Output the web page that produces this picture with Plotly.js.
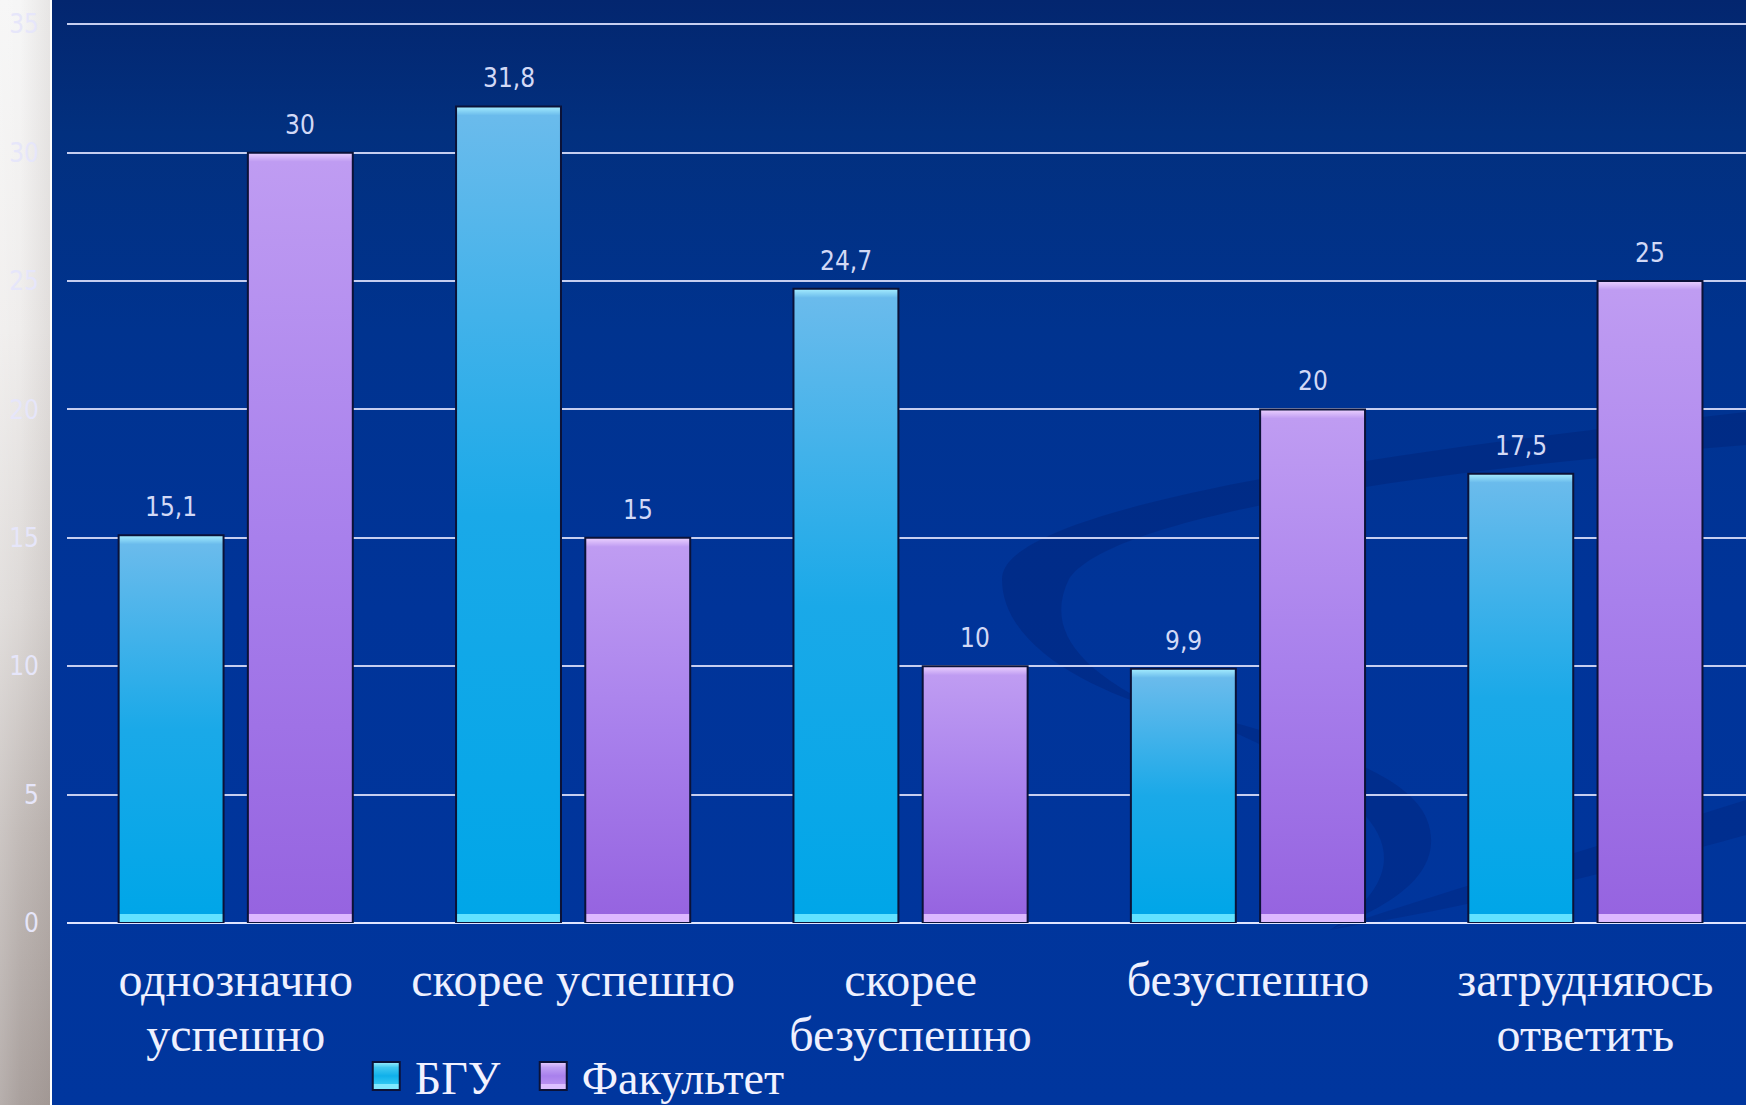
<!DOCTYPE html>
<html>
<head>
<meta charset="utf-8">
<script src="https://cdn.plot.ly/plotly-3.0.1.min.js"></script>
<style>
  html, body { margin: 0; padding: 0; width: 1746px; height: 1105px; overflow: hidden; }
  #bg { position: absolute; left: 0; top: 0; width: 1746px; height: 1105px;
        background: linear-gradient(to bottom, #03266f 0%, #02307f 12%, #00338f 30%, #003499 55%, #00369e 100%); }
  #strip { position: absolute; left: 0; top: 0; width: 50px; height: 1105px;
        background: linear-gradient(to bottom, #f6f6f6 0%, #efedec 30%, #ddd9d7 55%, #c3bcb9 75%, #aaa19e 100%); }
  #stripShade { position: absolute; left: 0; top: 0; width: 50px; height: 1105px;
        background: linear-gradient(to right, rgba(255,255,255,0.15) 0%, rgba(0,0,0,0) 40%, rgba(60,40,30,0.08) 100%); }
  #whiteLine { position: absolute; left: 50px; top: 0; width: 2px; height: 1105px; background: #ffffff; }
  #deco { position: absolute; left: 0; top: 0; }
  #chart { position: absolute; left: 0; top: 0; width: 1746px; height: 1105px; }
</style>
</head>
<body>
<div id="bg"></div>
<svg id="deco" width="1746" height="1105">
  <path d="M1746,412 C1448,445 1002,501 1002,579 C1002,646 1091,690 1169,713 C1069,668 1047,624 1069,579 C1114,512 1448,468 1746,445 Z" fill="rgba(0,25,100,0.28)"/>
  <path d="M1150,700 C1300,740 1420,770 1430,830 C1440,880 1380,910 1330,930 C1390,890 1400,850 1360,810 C1320,770 1240,730 1150,700 Z" fill="rgba(0,25,100,0.25)"/>
  <path d="M1330,930 C1480,880 1620,840 1746,800 L1746,835 C1620,870 1480,905 1330,930 Z" fill="rgba(0,25,100,0.22)"/>
</svg>
<div id="strip"></div>
<div id="stripShade"></div>
<div id="whiteLine"></div>
<div id="chart"></div>
<script>
// ---- data ----
const categories = ['однозначно<br>успешно', 'скорее успешно', 'скорее<br>безуспешно', 'безуспешно', 'затрудняюсь<br>ответить'];
const seriesNames = ['БГУ', 'Факультет'];
const bguValues = [15.1, 31.8, 24.7, 9.9, 17.5];
const facultyValues = [30, 15, 10, 20, 25];
const yTickValues = [0, 5, 10, 15, 20, 25, 30, 35];

// ---- styling ----
const BARGAP = 0.234;
const GROUPGAP = 0.188;
const serif = '"Liberation Serif", "Times New Roman", serif';
const narrow = '"Liberation Sans Narrow", "DejaVu Sans Condensed", "Liberation Sans", sans-serif';
const fmt = v => String(v).replace('.', ',');

const traces = [
  { type: 'bar', name: seriesNames[0], x: categories, y: bguValues,
    marker: { color: '#10a8e8', line: { color: '#0b1238', width: 2 } }, hoverinfo: 'skip' },
  { type: 'bar', name: seriesNames[1], x: categories, y: facultyValues,
    marker: { color: '#a47ce8', line: { color: '#0b1238', width: 2 } }, hoverinfo: 'skip' }
];

const slot = (1 - BARGAP) / 2;
const annotations = [];
[bguValues, facultyValues].forEach((vals, s) => {
  vals.forEach((v, i) => {
    annotations.push({
      x: i + (s === 0 ? -slot / 2 : slot / 2), y: v, xref: 'x', yref: 'y',
      text: fmt(v), showarrow: false, yanchor: 'bottom', yshift: 11,
      font: { family: narrow, size: 26, color: '#d2d9f6' }
    });
  });
});

const layout = {
  width: 1746, height: 1105,
  paper_bgcolor: 'rgba(0,0,0,0)', plot_bgcolor: 'rgba(0,0,0,0)',
  margin: { l: 67, r: 0, t: 23, b: 182, autoexpand: false },
  barmode: 'group', bargap: BARGAP, bargroupgap: GROUPGAP,
  showlegend: true,
  legend: { orientation: 'h', x: 0.1833, xanchor: 'left', y: -0.170, yanchor: 'middle',
            entrywidth: 122, entrywidthmode: 'pixels',
            font: { family: serif, size: 46, color: '#f2f2ff' }, bgcolor: 'rgba(0,0,0,0)',
            itemclick: false, itemdoubleclick: false },
  xaxis: { type: 'category', range: [-0.5, 4.476], showgrid: false, showline: false, zeroline: false,
           automargin: false,
           ticks: '', ticklabelstandoff: 24, tickfont: { family: serif, size: 48, color: '#eef0ff' } },
  yaxis: { range: [0, 35.05], tickvals: yTickValues, ticktext: yTickValues.map(String),
           automargin: false,
           showgrid: true, gridcolor: '#c6cef0', gridwidth: 2,
           zeroline: true, zerolinecolor: '#dfe5ff', zerolinewidth: 2, showline: false,
           ticks: '', ticklabelstandoff: 27, tickfont: { family: narrow, size: 26, color: '#e6e6fa' } },
  annotations: annotations
};

Plotly.newPlot('chart', traces, layout, { displayModeBar: false, staticPlot: true }).then(gd => {
  const svgNS = 'http://www.w3.org/2000/svg';
  const svg = gd.querySelector('svg.main-svg');
  const defs = document.createElementNS(svgNS, 'defs');
  svg.insertBefore(defs, svg.firstChild);
  let gid = 0;
  const palettes = [
    { edgeTop: '#a6eeff', top: '#6abbec', mid: '#1aa9e8', bot: '#00a6e8', edgeBot: '#62e2ff' },
    { edgeTop: '#ecd2ff', top: '#bf9cf2', mid: '#a880ec', bot: '#9664e0', edgeBot: '#dcb8ff' }
  ];
  function makeGrad(p, h) {
    const g = document.createElementNS(svgNS, 'linearGradient');
    const id = 'bg' + (gid++);
    g.setAttribute('id', id);
    g.setAttribute('x1', '0'); g.setAttribute('y1', '0'); g.setAttribute('x2', '0'); g.setAttribute('y2', '1');
    const e = Math.min(0.2, 9 / Math.max(h, 1));
    const stops = [[0, p.edgeTop], [e, p.top], [Math.max(e, 0.5), p.mid], [Math.max(e, 1 - e), p.bot], [Math.max(e, 1 - e) + 0.0001, p.edgeBot], [1, p.edgeBot]];
    stops.forEach(([o, c]) => {
      const s = document.createElementNS(svgNS, 'stop');
      s.setAttribute('offset', Math.min(1, o)); s.setAttribute('stop-color', c);
      g.appendChild(s);
    });
    defs.appendChild(g);
    return id;
  }
  gd.querySelectorAll('g.trace.bars').forEach((tr, ti) => {
    tr.querySelectorAll('path').forEach(pth => {
      const bb = pth.getBBox();
      const id = makeGrad(palettes[ti], bb.height);
      pth.style.fill = 'url(#' + id + ')';
    });
  });
  const legPal = [
    { edgeTop: '#9ff0ff', top: '#40c8f0', mid: '#10b0ea', bot: '#30c8f4', edgeBot: '#80e8ff' },
    { edgeTop: '#ead0ff', top: '#c0a0f4', mid: '#a880ec', bot: '#b890f0', edgeBot: '#dcc0ff' }
  ];
  gd.querySelectorAll('g.legend g.traces').forEach((tr, ti) => {
    tr.querySelectorAll('.legendpoints path').forEach(pth => {
      const id = makeGrad(legPal[ti], 28);
      pth.setAttribute('d', 'M25,14H-2V-14H25Z');
      pth.removeAttribute('transform');
      pth.style.fill = 'url(#' + id + ')';
      pth.style.strokeWidth = '2px';
      pth.style.stroke = '#0b1238';
    });
  });
  // let the legend text overflow its fixed entry width
  gd.querySelectorAll('g.legend [clip-path]').forEach(el => el.removeAttribute('clip-path'));
  gd.querySelectorAll('g.legend').forEach(el => el.removeAttribute('clip-path'));
  // tighten multi-line category label spacing
  gd.querySelectorAll('g.xtick text tspan.line').forEach(ts => {
    if (ts.getAttribute('dy') && ts.getAttribute('dy') !== '0em') ts.setAttribute('dy', '1.14em');
  });
});
</script>
</body>
</html>
